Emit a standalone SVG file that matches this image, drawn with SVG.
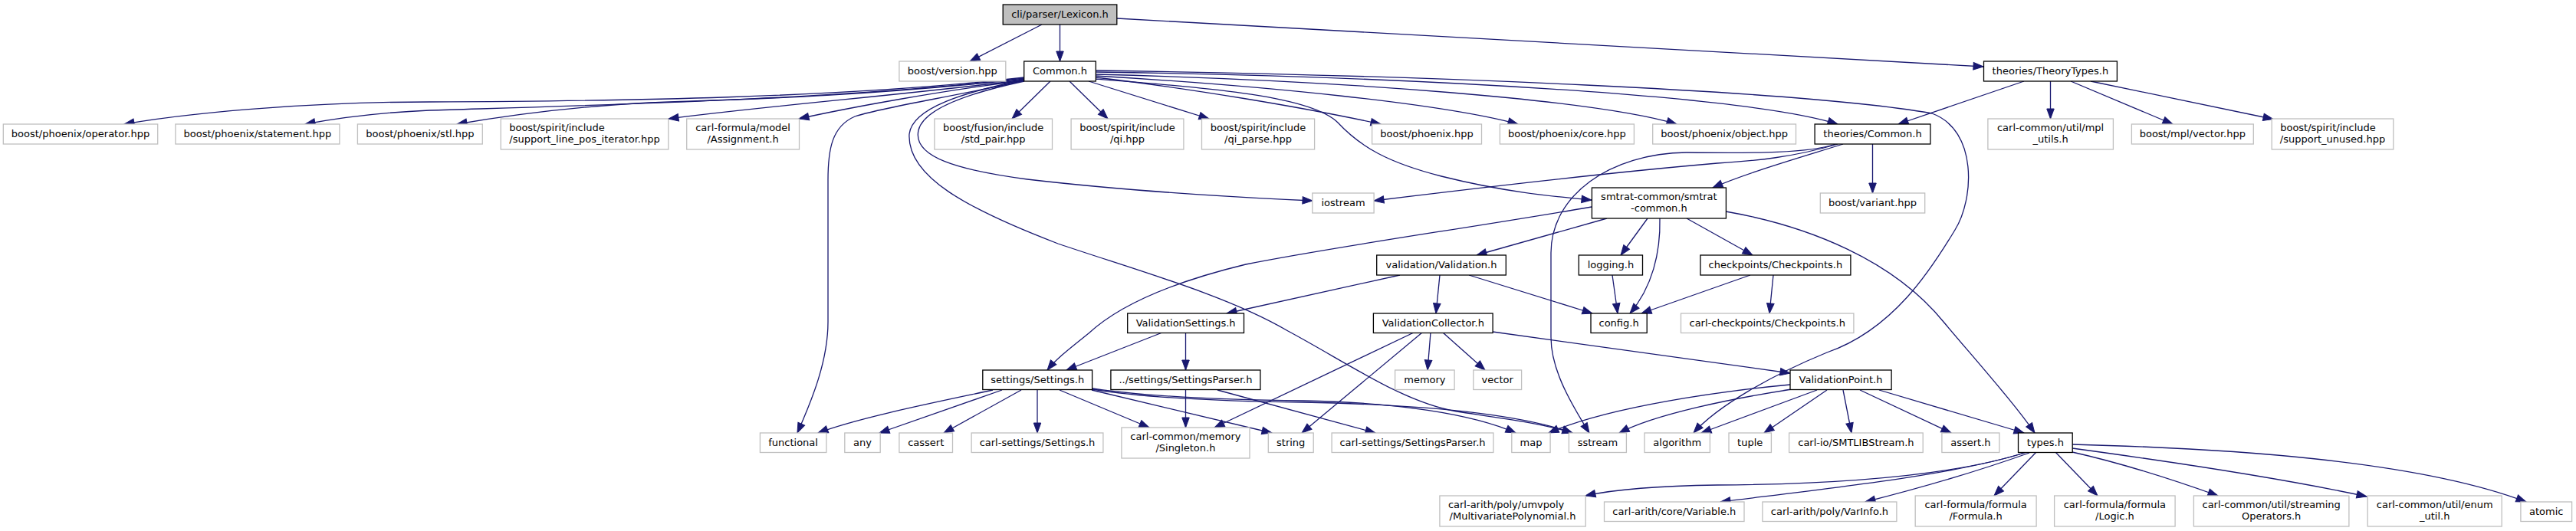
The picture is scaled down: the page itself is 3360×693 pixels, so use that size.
<svg xmlns="http://www.w3.org/2000/svg" width="3360" height="693" viewBox="0 0 3360 693">
<style>
.n rect{fill:#fff;stroke:#bfbfbf;stroke-width:1.3}
.n.d rect{stroke:#000}
.n.r rect{fill:#bfbfbf;stroke:#000}
text{font-family:"DejaVu Sans","Liberation Sans",sans-serif;font-size:13px;fill:#000;text-anchor:middle;opacity:0.99}
text.s{text-anchor:start}
#edges path{fill:none;stroke:#191970;stroke-width:1.3;marker-end:url(#ah)}
</style>
<defs>
<marker id="ah" markerUnits="userSpaceOnUse" markerWidth="14" markerHeight="10" refX="13" refY="4.75" orient="auto" overflow="visible">
<path d="M0,0 L13,4.75 L0,9.5 z" fill="#191970" stroke="#191970" stroke-width="1"/>
</marker>
</defs>
<rect x="0" y="0" width="3360" height="693" fill="#fff"/>
<g id="edges">
<path d="M1359,32 L1265,80"/>
<path d="M1382.5,32 L1382.5,80"/>
<path d="M1457,24 L2587,87"/>
<path d="M1336,101 C1100,128 800,132 560,133 C420,133 260,145 162,162"/>
<path d="M1336,102 C1100,130 750,138 560,144 C490,147 440,154 398,162"/>
<path d="M1337,103 C1100,128 950,130 846,134 C750,139 660,151 596,162"/>
<path d="M1336,104 C1200,122 1000,138 872,155"/>
<path d="M1336,105 C1230,118 1110,140 1042,155"/>
<path d="M1336,105 C1250,125 1150,140 1115,152 C1085,165 1080,195 1080,235 L1080,420 C1080,470 1060,520 1040,565"/>
<path d="M1370,106 L1320,155"/>
<path d="M1395,106 L1445,155"/>
<path d="M1420,106 L1577,155"/>
<path d="M1429,101 C1550,115 1700,140 1801,162"/>
<path d="M1429,99 C1650,112 1880,135 1980,162"/>
<path d="M1429,97 C1750,105 2080,130 2187,162"/>
<path d="M1429,94 C1850,100 2280,125 2397,162"/>
<path d="M1429,92 C1850,98 2350,118 2520,148 C2580,170 2575,260 2550,300 C2520,350 2470,430 2383,460 C2310,490 2240,530 2209,565"/>
<path d="M1429,103 C1580,115 1710,125 1745,160 C1775,192 1810,212 1880,230 C1960,250 2020,256 2076,261"/>
<path d="M1336,106 C1270,120 1205,140 1198,170 C1190,205 1250,222 1340,234 C1460,248 1600,257 1712,262"/>
<path d="M1336,104 C1260,120 1190,140 1186,175 C1183,230 1260,272 1380,318 C1480,352 1600,385 1680,432 C1760,475 1830,525 1900,537 C1960,546 2010,552 2051,565"/>
<path d="M2640,106 L2476,162"/>
<path d="M2674.5,106 L2674.5,155"/>
<path d="M2701,106 L2834,162"/>
<path d="M2727,106 L2965,155.5"/>
<path d="M2442.5,188 L2442.5,252"/>
<path d="M2404,188 C2350,205 2280,225 2234,245"/>
<path d="M2397,188 C2340,205 2290,210 2240,213 C2100,225 1930,245 1792,262"/>
<path d="M2394,188 C2360,200 2290,200 2200,199 C2100,200 2023,255 2023,330 L2023,440 C2023,480 2045,520 2073,565"/>
<path d="M2076,270 C1900,300 1740,322 1625,345 C1530,368 1460,398 1420,435 C1395,455 1378,468 1366,483"/>
<path d="M2096,285 L1926,333"/>
<path d="M2149,285 L2114,333"/>
<path d="M2165,285 C2166,330 2155,375 2126,409"/>
<path d="M2200,285 L2286,333"/>
<path d="M2251,276 C2360,295 2470,340 2535,420 C2590,485 2630,530 2654,565"/>
<path d="M1826,359 L1600,409"/>
<path d="M1878,359 L1873,409"/>
<path d="M1916,359 L2077,409"/>
<path d="M2103,359 L2110,409"/>
<path d="M2283,359 L2141,409"/>
<path d="M2313,359 L2308,409"/>
<path d="M1516,434 L1391,483"/>
<path d="M1546.5,434 L1546.5,483"/>
<path d="M1866,434 L1862,483"/>
<path d="M1882,434 L1937,483"/>
<path d="M1947,433 L2335,487"/>
<path d="M1844,434 L1584,558"/>
<path d="M1855,434 L1698,565"/>
<path d="M1295,509 C1220,525 1120,545 1067,565"/>
<path d="M1307,509 L1147,565"/>
<path d="M1332,509 L1231,565"/>
<path d="M1353,509 L1353,565"/>
<path d="M1382,509 L1499,558"/>
<path d="M1424,509 L1659,565"/>
<path d="M1425,507 C1500,518 1600,522 1700,523 C1820,525 1920,540 1977,565"/>
<path d="M1425,508 C1500,520 1600,524 1700,525 C1850,528 1980,540 2051,565"/>
<path d="M1546.5,509 L1546.5,558"/>
<path d="M1588,509 L1794,565"/>
<path d="M2335,502 C2250,510 2100,530 2020,565"/>
<path d="M2337,508 C2260,520 2160,540 2112,565"/>
<path d="M2370,509 L2219,565"/>
<path d="M2383,509 L2301,565"/>
<path d="M2404,509 L2415,565"/>
<path d="M2426,509 L2545,565"/>
<path d="M2451,509 L2640,565"/>
<path d="M2644,590 C2550,620 2400,632 2240,633 C2160,634 2100,640 2068,647"/>
<path d="M2640,591 C2550,620 2380,638 2244,655"/>
<path d="M2647,591 C2580,615 2500,638 2433,655"/>
<path d="M2656,590 L2601,647"/>
<path d="M2681,590 L2736,647"/>
<path d="M2703,590 C2770,605 2840,628 2893,647"/>
<path d="M2703,585 C2850,605 2980,625 3087,648"/>
<path d="M2703,580 C2900,585 3150,600 3295,655"/>
</g>
<g id="lexicon" class="n r"><rect x="1308.2" y="6" width="148.6" height="26"/><text x="1382.5" y="23">cli/parser/Lexicon.h</text></g>
<g id="version" class="n"><rect x="1172.9" y="80" width="138.9" height="26"/><text x="1242.3" y="97">boost/version.hpp</text></g>
<g id="common" class="n d"><rect x="1335.7" y="80" width="93.6" height="26"/><text x="1382.5" y="97">Common.h</text></g>
<g id="theorytypes" class="n d"><rect x="2587.5" y="80" width="173.9" height="26"/><text x="2674.4" y="97">theories/TheoryTypes.h</text></g>
<g id="operator" class="n"><rect x="4.3" y="162" width="201.4" height="26"/><text x="105" y="179">boost/phoenix/operator.hpp</text></g>
<g id="statement" class="n"><rect x="228.9" y="162" width="214" height="26"/><text x="335.9" y="179">boost/phoenix/statement.hpp</text></g>
<g id="stl" class="n"><rect x="466.4" y="162" width="162.9" height="26"/><text x="547.9" y="179">boost/phoenix/stl.hpp</text></g>
<g id="slpi" class="n"><rect x="653.2" y="155" width="218.6" height="40"/><text class="s" x="664.2" y="171.3">boost/spirit/include</text><text x="762.5" y="186.3">/support_line_pos_iterator.hpp</text></g>
<g id="assignment" class="n"><rect x="895.7" y="155" width="146.8" height="40"/><text x="969.1" y="171.3">carl-formula/model</text><text x="969.1" y="186.3">/Assignment.h</text></g>
<g id="stdpair" class="n"><rect x="1218.9" y="155" width="153.6" height="40"/><text x="1295.7" y="171.3">boost/fusion/include</text><text x="1295.7" y="186.3">/std_pair.hpp</text></g>
<g id="qi" class="n"><rect x="1397.1" y="155" width="146.8" height="40"/><text x="1470.5" y="171.3">boost/spirit/include</text><text x="1470.5" y="186.3">/qi.hpp</text></g>
<g id="qiparse" class="n"><rect x="1567.5" y="155" width="147.1" height="40"/><text x="1641" y="171.3">boost/spirit/include</text><text x="1641" y="186.3">/qi_parse.hpp</text></g>
<g id="phoenix" class="n"><rect x="1789.6" y="162" width="142.9" height="26"/><text x="1861" y="179">boost/phoenix.hpp</text></g>
<g id="phoenixcore" class="n"><rect x="1956.4" y="162" width="175" height="26"/><text x="2043.9" y="179">boost/phoenix/core.hpp</text></g>
<g id="phoenixobject" class="n"><rect x="2155.7" y="162" width="186.8" height="26"/><text x="2249.1" y="179">boost/phoenix/object.hpp</text></g>
<g id="theoriescommon" class="n d"><rect x="2367.1" y="162" width="150.8" height="26"/><text x="2442.5" y="179">theories/Common.h</text></g>
<g id="mplutils" class="n"><rect x="2592.9" y="155" width="163.5" height="40"/><text x="2674.6" y="171.3">carl-common/util/mpl</text><text x="2674.6" y="186.3">_utils.h</text></g>
<g id="mplvector" class="n"><rect x="2780.4" y="162" width="158.9" height="26"/><text x="2859.8" y="179">boost/mpl/vector.hpp</text></g>
<g id="supportunused" class="n"><rect x="2963.2" y="155" width="158.6" height="40"/><text class="s" x="2974.2" y="171.3">boost/spirit/include</text><text x="3042.5" y="186.3">/support_unused.hpp</text></g>
<g id="iostream" class="n"><rect x="1711.8" y="252" width="80.3" height="26"/><text x="1752" y="269">iostream</text></g>
<g id="smtratcommon" class="n d"><rect x="2076.4" y="245" width="175" height="40"/><text x="2163.9" y="261.3">smtrat-common/smtrat</text><text x="2163.9" y="276.3">-common.h</text></g>
<g id="variant" class="n"><rect x="2374.3" y="252" width="136.4" height="26"/><text x="2442.5" y="269">boost/variant.hpp</text></g>
<g id="validation" class="n d"><rect x="1795.7" y="333" width="168.6" height="26"/><text x="1880" y="350">validation/Validation.h</text></g>
<g id="logging" class="n d"><rect x="2059.3" y="333" width="83.2" height="26"/><text x="2100.9" y="350">logging.h</text></g>
<g id="checkpoints" class="n d"><rect x="2217.9" y="333" width="196" height="26"/><text x="2315.9" y="350">checkpoints/Checkpoints.h</text></g>
<g id="validationsettings" class="n d"><rect x="1470.7" y="409" width="151.8" height="25.5"/><text x="1546.6" y="426">ValidationSettings.h</text></g>
<g id="validationcollector" class="n d"><rect x="1791.4" y="409" width="155.7" height="25.5"/><text x="1869.3" y="426">ValidationCollector.h</text></g>
<g id="config" class="n d"><rect x="2075" y="409" width="73.2" height="25.5"/><text x="2111.6" y="426">config.h</text></g>
<g id="carlcheckpoints" class="n"><rect x="2192.5" y="409" width="225.4" height="25.5"/><text x="2305.2" y="426">carl-checkpoints/Checkpoints.h</text></g>
<g id="settings" class="n d"><rect x="1281.8" y="483" width="142.8" height="25.5"/><text x="1353.2" y="500">settings/Settings.h</text></g>
<g id="settingsparser" class="n d"><rect x="1448.9" y="483" width="195" height="25.5"/><text x="1546.4" y="500">../settings/SettingsParser.h</text></g>
<g id="memory" class="n"><rect x="1819.6" y="483" width="77.5" height="25.5"/><text x="1858.4" y="500">memory</text></g>
<g id="vector" class="n"><rect x="1921.8" y="483" width="62.8" height="25.5"/><text x="1953.2" y="500">vector</text></g>
<g id="validationpoint" class="n d"><rect x="2335" y="483" width="132.1" height="25.5"/><text x="2401" y="500">ValidationPoint.h</text></g>
<g id="functional" class="n"><rect x="991.4" y="565" width="86.5" height="25.5"/><text x="1034.6" y="582">functional</text></g>
<g id="any" class="n"><rect x="1101.8" y="565" width="46.4" height="25.5"/><text x="1125" y="582">any</text></g>
<g id="cassert" class="n"><rect x="1172.9" y="565" width="69.6" height="25.5"/><text x="1207.7" y="582">cassert</text></g>
<g id="carlsettings" class="n"><rect x="1267.1" y="565" width="171.8" height="25.5"/><text x="1353" y="582">carl-settings/Settings.h</text></g>
<g id="singleton" class="n"><rect x="1462.9" y="558" width="167.1" height="40"/><text x="1546.4" y="574.3">carl-common/memory</text><text x="1546.4" y="589.3">/Singleton.h</text></g>
<g id="string" class="n"><rect x="1654.3" y="565" width="58.9" height="25.5"/><text x="1683.7" y="582">string</text></g>
<g id="carlsettingsparser" class="n"><rect x="1737.1" y="565" width="210.8" height="25.5"/><text x="1842.5" y="582">carl-settings/SettingsParser.h</text></g>
<g id="map" class="n"><rect x="1971.8" y="565" width="50.3" height="25.5"/><text x="1997" y="582">map</text></g>
<g id="sstream" class="n"><rect x="2046.4" y="565" width="75" height="25.5"/><text x="2083.9" y="582">sstream</text></g>
<g id="algorithm" class="n"><rect x="2145" y="565" width="85.4" height="25.5"/><text x="2187.7" y="582">algorithm</text></g>
<g id="tuple" class="n"><rect x="2255" y="565" width="55.4" height="25.5"/><text x="2282.7" y="582">tuple</text></g>
<g id="smtlibstream" class="n"><rect x="2333.6" y="565" width="174.6" height="25.5"/><text x="2420.9" y="582">carl-io/SMTLIBStream.h</text></g>
<g id="asserth" class="n"><rect x="2532.9" y="565" width="75" height="25.5"/><text x="2570.4" y="582">assert.h</text></g>
<g id="types" class="n d"><rect x="2632.5" y="565" width="70.7" height="25.5"/><text x="2667.9" y="582">types.h</text></g>
<g id="multivariatepolynomial" class="n"><rect x="1877.9" y="647" width="190.3" height="40"/><text class="s" x="1888.9" y="663.3">carl-arith/poly/umvpoly</text><text x="1973" y="678.3">/MultivariatePolynomial.h</text></g>
<g id="variable" class="n"><rect x="2092.5" y="655" width="182.5" height="25.5"/><text x="2183.8" y="672">carl-arith/core/Variable.h</text></g>
<g id="varinfo" class="n"><rect x="2298.9" y="655" width="175" height="25.5"/><text x="2386.4" y="672">carl-arith/poly/VarInfo.h</text></g>
<g id="formula" class="n"><rect x="2498.2" y="647" width="157.9" height="40"/><text x="2577.1" y="663.3">carl-formula/formula</text><text x="2577.1" y="678.3">/Formula.h</text></g>
<g id="logic" class="n"><rect x="2679.6" y="647" width="157.5" height="40"/><text x="2758.4" y="663.3">carl-formula/formula</text><text x="2758.4" y="678.3">/Logic.h</text></g>
<g id="streamingoperators" class="n"><rect x="2861.4" y="647" width="202.5" height="40"/><text x="2962.7" y="663.3">carl-common/util/streaming</text><text x="2962.7" y="678.3">Operators.h</text></g>
<g id="enumutil" class="n"><rect x="3088.2" y="647" width="175" height="40"/><text x="3175.7" y="663.3">carl-common/util/enum</text><text x="3175.7" y="678.3">_util.h</text></g>
<g id="atomic" class="n"><rect x="3287.9" y="655" width="66.7" height="25.5"/><text x="3321.2" y="672">atomic</text></g>
</svg>
